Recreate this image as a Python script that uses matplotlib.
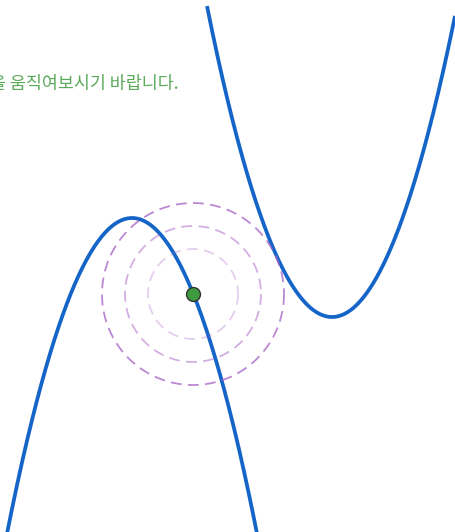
import numpy as np
import matplotlib.pyplot as plt

plt.rcParams['font.family'] = ['Noto Sans CJK KR', 'DejaVu Sans']

# parabolas in screen units (y grows downward): vertex x, vertex y, coefficient, x range
left_vertex = (132, 218)
left_coeff = 0.0202
left_xrange = (7, 257)

right_vertex = (332, 317)
right_coeff = -0.0199
right_xrange = (207, 455)

# movable point and the rings around it
point = (193, 294)
ring_radii = [45, 68, 91]
ring_alpha = [0.3, 0.5, 0.75]

message = "점을 움직여보시기 바랍니다."


def parabola(vertex, coeff, xrange):
    x = np.linspace(xrange[0], xrange[1], 400)
    y = vertex[1] + coeff * (x - vertex[0]) ** 2
    return x, y


def main():
    fig = plt.figure(figsize=(4.56, 5.32), dpi=100)
    ax = fig.add_axes([0, 0, 1, 1])
    ax.set_xlim(0, 456)
    ax.set_ylim(532, 0)
    ax.set_aspect('equal')
    ax.axis('off')

    blue = '#1565c8'
    for vertex, coeff, xrange in [(left_vertex, left_coeff, left_xrange),
                                  (right_vertex, right_coeff, right_xrange)]:
        x, y = parabola(vertex, coeff, xrange)
        ax.plot(x, y, color=blue, lw=2.7, solid_capstyle='butt')

    t = np.linspace(0, 2 * np.pi, 300)
    for r, a in zip(ring_radii, ring_alpha):
        ax.plot(point[0] + r * np.cos(t), point[1] + r * np.sin(t),
                color='#a65fc4', alpha=a, lw=1.3, ls=(0, (6, 3.5)))

    ax.plot(point[0], point[1], 'o', ms=10, mfc='#3e9b3e', mec='#333333', mew=1.0)

    ax.text(179, 84, message, color='#5aaa5a', fontsize=12.5,
            ha='right', va='center')

    fig.savefig('out.png', dpi=100)


if __name__ == "__main__":
    main()
